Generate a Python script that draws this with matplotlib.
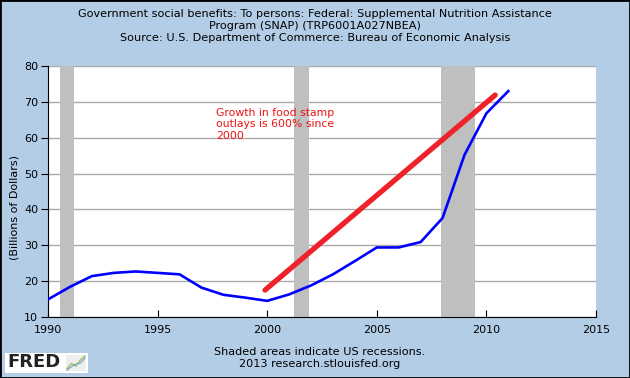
import matplotlib.pyplot as plt

# FRED series TRP6001A027NBEA, annual, billions of dollars
years = list(range(1990, 2012))
snap = [14.9, 18.4, 21.4, 22.3, 22.7, 22.3, 21.9, 18.2, 16.2, 15.4, 14.5,
        16.3, 18.8, 21.9, 25.6, 29.4, 29.4, 30.9, 37.6, 55.2, 66.8, 73.0]

# hand-drawn trend line
trend_x = [1999.9, 2010.4]
trend_y = [17.5, 71.9]

# recessions
recessions = [(1990.55, 1991.2), (2001.2, 2001.9), (2007.95, 2009.5)]

title = ("Government social benefits: To persons: Federal: Supplemental Nutrition Assistance\n"
         "Program (SNAP) (TRP6001A027NBEA)\n"
         "Source: U.S. Department of Commerce: Bureau of Economic Analysis")
note = "Growth in food stamp\noutlays is 600% since\n2000"

bg = '#b4cde6'
plt.rcParams['font.family'] = 'DejaVu Sans'

fig = plt.figure(figsize=(6.3, 3.78), dpi=100, facecolor=bg)
ax = fig.add_axes([48/630, 61/378, 548/630, 251/378])

for a, b in recessions:
    ax.axvspan(a, b, color='#bfbfbf', lw=0, zorder=1)

ax.plot(years, snap, color='#0000ff', lw=1.9, zorder=3)
ax.plot(trend_x, trend_y, color='#ee2228', lw=3.8, solid_capstyle='round', zorder=4)

ax.text(1997.65, 68.4, note, color='#ee1111', fontsize=7.8, va='top', ha='left',
        linespacing=1.2, zorder=5)

ax.set_xlim(1990, 2015)
ax.set_ylim(10, 80)
ax.set_xticks(range(1990, 2016, 5))
ax.set_yticks(range(10, 81, 10))
ax.grid(axis='y', color='#aaaaaa', lw=1)
ax.set_axisbelow(True)
ax.tick_params(axis='x', direction='in', length=5, labelsize=8, pad=6)
ax.tick_params(axis='y', direction='out', length=5, labelsize=8, pad=2)
ax.spines['top'].set_visible(False)
ax.spines['right'].set_visible(False)
ax.set_ylabel('(Billions of Dollars)', fontsize=8)
ax.yaxis.set_label_coords(-0.052, 0.438)

fig.text(0.5, 1 - 26/378, title, ha='center', va='center', fontsize=8.1, linespacing=1.27)
fig.text(320/630, 1 - 351.7/378, "Shaded areas indicate US recessions.", ha='center', va='center', fontsize=8.1)
fig.text(320/630, 1 - 364/378, "2013 research.stlouisfed.org", ha='center', va='center', fontsize=8.1)

# FRED logo
fig.patches.append(plt.Rectangle((5/630, 1 - 373/378), 83/630, 20/378, transform=fig.transFigure,
                                 facecolor='white', edgecolor='none', zorder=1))
fig.text(7/630, 1 - 362/378, "FRED", ha='left', va='center', fontsize=13, fontweight='heavy',
         color='#222222')
icon = fig.add_axes([66/630, 1 - 371/378, 20/630, 16/378], zorder=2)
icon.set_facecolor('#eeeeee')
icon.plot([0, 1, 2, 3, 4], [0.5, 1.5, 1.0, 2.2, 3.0], color='#88bb44', lw=0.8)
icon.plot([0, 1, 2, 3, 4], [0.2, 0.9, 1.4, 1.6, 2.6], color='#7799cc', lw=0.8)
icon.set_xticks([])
icon.set_yticks([])
for s in icon.spines.values():
    s.set_visible(False)

# outer frame
fig.patches.append(plt.Rectangle((0, 0), 1, 1, transform=fig.transFigure, fill=False,
                                 edgecolor='black', lw=2))

fig.savefig('out.png', dpi=100, facecolor=bg)
